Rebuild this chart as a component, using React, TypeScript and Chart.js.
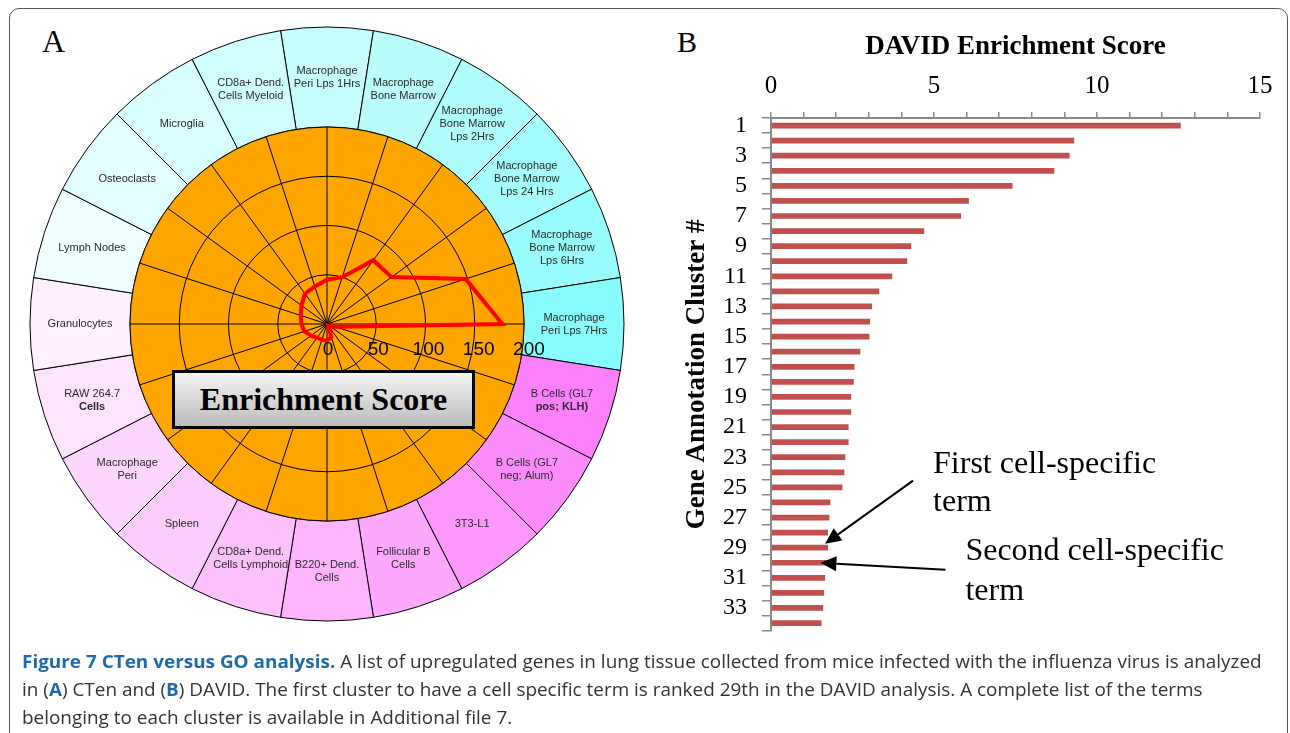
import React, { useEffect, useLayoutEffect, useRef, useState } from 'react';
import { Chart, registerables } from 'chart.js';

Chart.register(...registerables);

// ---------- Panel A data ----------
const cellTypes: string[][] = [
  ['Macrophage', 'Peri Lps 1Hrs'],
  ['Macrophage', 'Bone Marrow'],
  ['Macrophage', 'Bone Marrow', 'Lps 2Hrs'],
  ['Macrophage', 'Bone Marrow', 'Lps 24 Hrs'],
  ['Macrophage', 'Bone Marrow', 'Lps 6Hrs'],
  ['Macrophage', 'Peri Lps 7Hrs'],
  ['B Cells (GL7', 'pos; KLH)'],
  ['B Cells (GL7', 'neg; Alum)'],
  ['3T3-L1'],
  ['Follicular B', 'Cells'],
  ['B220+ Dend.', 'Cells'],
  ['CD8a+ Dend.', 'Cells Lymphoid'],
  ['Spleen'],
  ['Macrophage', 'Peri'],
  ['RAW 264.7', 'Cells'],
  ['Granulocytes'],
  ['Lymph Nodes'],
  ['Osteoclasts'],
  ['Microglia'],
  ['CD8a+ Dend.', 'Cells Myeloid'],
];
const boldSecondLine: number[] = [6, 14];
const ringWeights: number[] = [1, 1, 1, 1, 1, 1, 1, 1, 1, 1, 1, 1, 1, 1, 1, 1, 1, 1, 1, 1];
const ringColors: string[] = [
  '#C6FCFC', '#BAFCFC', '#AEFCFC', '#A4FCFC', '#98FCFC', '#88FCFC',
  '#FC80FC', '#FC8CFC', '#FC98FC', '#FCA8FC', '#FCB4FC', '#FCC0FC',
  '#FCCCFC', '#FCD6FC', '#FCE4FC', '#FEF0FE', '#F0FEFE', '#E2FEFE',
  '#D8FEFE', '#D0FEFE',
];
const ctenScores: number[] = [45, 50, 80, 81, 148, 178, 9, 4, 2, 14, 17, 17, 17, 20, 24, 26, 28, 32, 38, 40];
const radarTicks: number[] = [0, 50, 100, 150, 200];

// ---------- Panel B data ----------
const clusterLabels: string[] = [
  '1', '2', '3', '4', '5', '6', '7', '8', '9', '10', '11', '12', '13', '14', '15', '16', '17',
  '18', '19', '20', '21', '22', '23', '24', '25', '26', '27', '28', '29', '30', '31', '32', '33', '34',
];
const davidScores: number[] = [
  12.57, 9.3, 9.16, 8.69, 7.41, 6.07, 5.83, 4.7, 4.3, 4.18, 3.72, 3.32, 3.1, 3.04, 3.02, 2.74, 2.56,
  2.54, 2.46, 2.46, 2.38, 2.38, 2.28, 2.25, 2.19, 1.82, 1.79, 1.75, 1.75, 1.7, 1.66, 1.63, 1.6, 1.55,
];
const annotationTexts: string[][] = [
  ['First cell-specific', 'term'],
  ['Second cell-specific', 'term'],
];
const annotatedClusters: number[] = [29, 30];

const SANS = '"Liberation Sans", Arial, Helvetica, sans-serif';
const SERIF = '"Liberation Serif", "Times New Roman", Times, serif';

function drawArrow(ctx: CanvasRenderingContext2D, x1: number, y1: number, x2: number, y2: number) {
  const ang = Math.atan2(y2 - y1, x2 - x1);
  const hl = 16;
  const hw = 7.5;
  const bx = x2 - Math.cos(ang) * hl;
  const by = y2 - Math.sin(ang) * hl;
  ctx.save();
  ctx.strokeStyle = '#000';
  ctx.fillStyle = '#000';
  ctx.lineWidth = 2;
  ctx.beginPath();
  ctx.moveTo(x1, y1);
  ctx.lineTo(bx, by);
  ctx.stroke();
  ctx.beginPath();
  ctx.moveTo(x2, y2);
  ctx.lineTo(bx + Math.sin(ang) * hw, by - Math.cos(ang) * hw);
  ctx.lineTo(bx - Math.sin(ang) * hw, by + Math.cos(ang) * hw);
  ctx.closePath();
  ctx.fill();
  ctx.restore();
}

export default function App() {
  const ringRef = useRef<HTMLCanvasElement>(null);
  const radarRef = useRef<HTMLCanvasElement>(null);
  const barRef = useRef<HTMLCanvasElement>(null);
  const line1Ref = useRef<HTMLDivElement>(null);
  const [capScale, setCapScale] = useState(1);

  useLayoutEffect(() => {
    document.body.style.margin = '0';
    if (line1Ref.current) {
      const w = line1Ref.current.offsetWidth;
      if (w > 0) setCapScale(1240 / w);
    }
  }, []);

  useEffect(() => {
    const ringLabelPlugin = {
      id: 'ringLabels',
      afterDatasetsDraw(chart: any) {
        const ctx = chart.ctx as CanvasRenderingContext2D;
        const meta = chart.getDatasetMeta(0);
        ctx.save();
        ctx.fillStyle = '#2a2a2a';
        ctx.textAlign = 'center';
        ctx.textBaseline = 'middle';
        meta.data.forEach((arc: any, i: number) => {
          const p = arc.getProps(['x', 'y', 'startAngle', 'endAngle', 'innerRadius', 'outerRadius'], true);
          const a = (p.startAngle + p.endAngle) / 2;
          const r = (p.innerRadius + p.outerRadius) / 2;
          const cx = p.x + Math.cos(a) * r;
          const cy = p.y + Math.sin(a) * r;
          const lines = cellTypes[i];
          const lh = 13;
          lines.forEach((t, j) => {
            const bold = j === 1 && boldSecondLine.includes(i);
            ctx.font = (bold ? 'bold ' : '') + '11px ' + SANS;
            ctx.fillText(t, cx, cy + (j - (lines.length - 1) / 2) * lh);
          });
        });
        ctx.restore();
      },
    };

    const ring = new Chart(ringRef.current!, {
      type: 'doughnut',
      data: {
        labels: cellTypes.map((l) => l.join(' ')),
        datasets: [
          {
            data: ringWeights,
            backgroundColor: ringColors,
            borderColor: '#000',
            borderWidth: 1,
          },
        ],
      },
      options: {
        animation: false,
        responsive: false,
        rotation: -9,
        radius: 297,
        cutout: (197 / 297) * 100 + '%',
        events: [],
        layout: { padding: 0 },
        plugins: { legend: { display: false }, tooltip: { enabled: false } },
      } as any,
      plugins: [ringLabelPlugin],
    });

    const diskPlugin = {
      id: 'orangeDisk',
      beforeDraw(chart: any) {
        const r = chart.scales.r;
        const ctx = chart.ctx as CanvasRenderingContext2D;
        ctx.save();
        ctx.fillStyle = '#FFA500';
        ctx.beginPath();
        ctx.arc(r.xCenter, r.yCenter, r.drawingArea, 0, Math.PI * 2);
        ctx.fill();
        ctx.restore();
      },
      afterDraw(chart: any) {
        const r = chart.scales.r;
        const ctx = chart.ctx as CanvasRenderingContext2D;
        ctx.save();
        ctx.fillStyle = '#000';
        ctx.font = '19px ' + SANS;
        ctx.textAlign = 'center';
        ctx.textBaseline = 'middle';
        radarTicks.forEach((v) => {
          const d = r.getDistanceFromCenterForValue(v);
          ctx.fillText(String(v), r.xCenter + d * 1.02 + 1, r.yCenter + 26);
        });
        ctx.restore();
      },
    };

    const radar = new Chart(radarRef.current!, {
      type: 'radar',
      data: {
        labels: cellTypes.map((l) => l.join(' ')),
        datasets: [
          {
            data: ctenScores,
            borderColor: '#FF0000',
            borderWidth: 4,
            fill: false,
            pointRadius: 0,
            pointHoverRadius: 0,
          },
        ],
      },
      options: {
        animation: false,
        responsive: false,
        events: [],
        layout: { padding: 103 },
        plugins: { legend: { display: false }, tooltip: { enabled: false } },
        scales: {
          r: {
            min: 0,
            max: 200,
            ticks: { stepSize: 50, display: false },
            grid: { color: '#000', lineWidth: 1, circular: true },
            angleLines: { color: '#000', lineWidth: 1 },
            pointLabels: { display: false },
          },
        },
      } as any,
      plugins: [diskPlugin],
    });

    const arrowPlugin = {
      id: 'arrows',
      afterDraw(chart: any) {
        const ctx = chart.ctx as CanvasRenderingContext2D;
        const xs = chart.scales.x;
        const ys = chart.scales.y;
        const i1 = annotatedClusters[0] - 1;
        const i2 = annotatedClusters[1] - 1;
        const t1x = xs.getPixelForValue(davidScores[i1]) - 3;
        const t1y = ys.getPixelForValue(i1) - 4;
        const s1x = t1x + 88;
        const s1y = t1y - 63;
        const t2x = xs.getPixelForValue(davidScores[i2]) - 6;
        const t2y = ys.getPixelForValue(i2);
        const s2x = t2x + 125;
        const s2y = t2y + 7;
        drawArrow(ctx, s1x, s1y, t1x, t1y);
        drawArrow(ctx, s2x, s2y, t2x, t2y);
        ctx.save();
        ctx.fillStyle = '#000';
        ctx.font = '32px ' + SERIF;
        ctx.textAlign = 'left';
        ctx.textBaseline = 'alphabetic';
        ctx.fillText(annotationTexts[0][0], s1x + 20, s1y - 8);
        ctx.fillText(annotationTexts[0][1], s1x + 20, s1y + 30);
        ctx.fillText(annotationTexts[1][0], s2x + 20, s2y - 10);
        ctx.fillText(annotationTexts[1][1], s2x + 20, s2y + 30);
        ctx.restore();
      },
    };

    const bar = new Chart(barRef.current!, {
      type: 'bar',
      data: {
        labels: clusterLabels,
        datasets: [
          {
            data: davidScores,
            backgroundColor: '#C0504D',
            barPercentage: 0.38,
            categoryPercentage: 1,
          },
        ],
      },
      options: {
        indexAxis: 'y',
        animation: false,
        responsive: false,
        events: [],
        layout: { padding: { left: 0, right: 30, top: 0, bottom: 26 } },
        plugins: { legend: { display: false }, tooltip: { enabled: false } },
        scales: {
          x: {
            position: 'top',
            min: 0,
            max: 15,
            ticks: {
              stepSize: 1,
              autoSkip: false,
              maxRotation: 0,
              callback: (v: any) => (Number(v) % 5 === 0 ? String(v) : ''),
              font: { family: SERIF, size: 25 },
              color: '#000',
              padding: 11,
            },
            grid: { drawOnChartArea: false, tickLength: 6, color: '#8a8a8a', lineWidth: 1.5 },
            border: { color: '#8a8a8a', width: 2 },
            title: {
              display: true,
              text: 'DAVID Enrichment Score',
              font: { family: SERIF, size: 27, weight: 'bold' },
              color: '#000',
              padding: { top: 31, bottom: 0 },
            },
            afterFit: (s: any) => {
              s.height = 118;
            },
          },
          y: {
            ticks: {
              autoSkip: false,
              callback: (_v: any, i: number) => (i % 2 === 0 ? clusterLabels[i] : ''),
              font: { family: SERIF, size: 24 },
              color: '#000',
              padding: 15,
            },
            grid: { drawOnChartArea: false, offset: true, tickLength: 9, color: '#8a8a8a', lineWidth: 1.5 },
            border: { color: '#8a8a8a', width: 2 },
            title: {
              display: true,
              text: 'Gene Annotation Cluster #',
              font: { family: SERIF, size: 27, weight: 'bold' },
              color: '#000',
              padding: { top: 41, bottom: 0 },
            },
            afterFit: (s: any) => {
              s.width = 131;
            },
          },
        },
      } as any,
      plugins: [arrowPlugin],
    });

    return () => {
      ring.destroy();
      radar.destroy();
      bar.destroy();
    };
  }, []);

  const blue = '#1f6aa8';

  return (
    <div style={{ position: 'absolute', left: 0, top: 0, width: 1290, height: 733, overflow: 'hidden', background: '#fff' }}>
      <div
        style={{
          position: 'absolute',
          left: 9,
          top: 8,
          width: 1279,
          height: 745,
          border: '1.5px solid #555',
          borderRadius: 10,
          boxSizing: 'border-box',
        }}
      />
      <div style={{ position: 'absolute', left: 42, top: 25, fontFamily: SERIF, fontSize: 32, lineHeight: '32px', color: '#000' }}>A</div>
      <div style={{ position: 'absolute', left: 677, top: 27, fontFamily: SERIF, fontSize: 30, lineHeight: '30px', color: '#000' }}>B</div>

      <canvas ref={ringRef} width={600} height={600} style={{ position: 'absolute', left: 27, top: 24, width: 600, height: 600 }} />
      <canvas ref={radarRef} width={600} height={600} style={{ position: 'absolute', left: 27, top: 24, width: 600, height: 600 }} />

      <div
        style={{
          position: 'absolute',
          left: 172,
          top: 370,
          width: 303,
          height: 59,
          boxSizing: 'border-box',
          border: '3px solid #000',
          background: 'linear-gradient(#f4f4f4, #bcbcbc)',
          display: 'flex',
          alignItems: 'center',
          justifyContent: 'center',
          fontFamily: SERIF,
          fontWeight: 'bold',
          fontSize: 32,
          color: '#000',
        }}
      >
        Enrichment Score
      </div>

      <canvas ref={barRef} width={650} height={660} style={{ position: 'absolute', left: 640, top: 0, width: 650, height: 660 }} />

      <div
        style={{
          position: 'absolute',
          left: 22,
          top: 647,
          fontFamily: '"Open Sans", "Noto Sans", sans-serif',
          fontSize: 18,
          lineHeight: '28px',
          color: '#333',
          whiteSpace: 'nowrap',
          transformOrigin: '0 0',
          transform: `scaleX(${capScale})`,
        }}
      >
        <div ref={line1Ref} style={{ display: 'inline-block' }}>
          <b style={{ color: blue }}>Figure 7 CTen versus GO analysis.</b> A list of upregulated genes in lung tissue collected from mice infected with the influenza virus is analyzed
        </div>
        <div>
          in (<b style={{ color: blue }}>A</b>) CTen and (<b style={{ color: blue }}>B</b>) DAVID. The first cluster to have a cell specific term is ranked 29th in the DAVID analysis. A complete list of the terms
        </div>
        <div>belonging to each cluster is available in Additional file 7.</div>
      </div>
    </div>
  );
}
